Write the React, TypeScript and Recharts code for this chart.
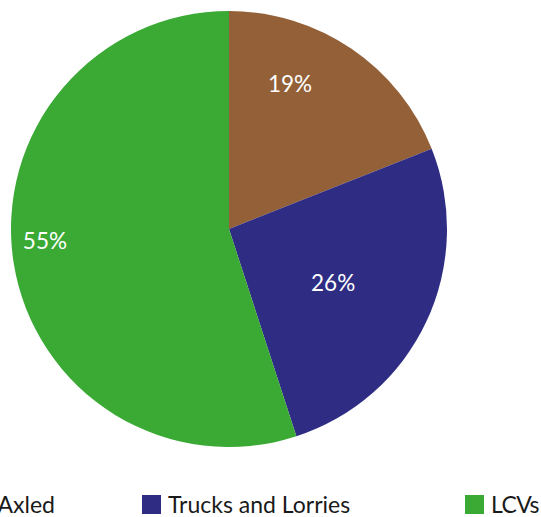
import React from 'react';
import { PieChart, Pie, Cell, Legend } from 'recharts';

const categories = ['Multi Axled', 'Trucks and Lorries', 'LCVs'];
const shares = [19, 26, 55];
const colors = ['#936038', '#2E2D83', '#3AAA35'];

// label placement tweaks (radius fraction of outer radius, angle offset in degrees)
const labelRadius = [0.725, 0.537, 0.846];
const labelAngleShift = [11.5, -2, -5.4];

const data = categories.map((name, i) => ({ name, value: shares[i] }));

const RAD = Math.PI / 180;

const renderLabel = (props: any) => {
  const { cx, cy, midAngle, outerRadius, index, value } = props;
  const r = outerRadius * labelRadius[index];
  const a = (midAngle + labelAngleShift[index]) * RAD;
  const x = cx + r * Math.cos(a);
  const y = cy - r * Math.sin(a);
  return (
    <text
      x={x}
      y={y}
      fill="#ffffff"
      textAnchor="middle"
      dominantBaseline="central"
      fontSize={22.5}
      fontFamily="Lato, sans-serif"
    >
      {`${value}%`}
    </text>
  );
};

const legendLeft = [null, 142, 465];

const renderLegend = () => (
  <div style={{ position: 'relative', width: 541, height: 24, fontFamily: 'Lato, sans-serif', fontSize: 23, color: '#1a1a1a' }}>
    {data.map((d, i) => {
      const left = legendLeft[i];
      const style: React.CSSProperties =
        left === null
          ? { position: 'absolute', right: 541 - 55, top: 0, display: 'flex', alignItems: 'flex-end', whiteSpace: 'nowrap' }
          : { position: 'absolute', left, top: 0, display: 'flex', alignItems: 'flex-end', whiteSpace: 'nowrap' };
      return (
        <div key={d.name} style={style}>
          <span style={{ display: 'inline-block', width: 19, height: 19, background: colors[i], marginRight: 7, flex: 'none' }} />
          <span style={{ whiteSpace: 'nowrap', lineHeight: '19px', letterSpacing: i === 2 ? -0.6 : 0 }}>{d.name}</span>
        </div>
      );
    })}
  </div>
);

export default function App() {
  return (
    <div style={{ position: 'fixed', left: 0, top: 0, width: 541, height: 517, overflow: 'hidden', background: '#ffffff' }}>
      <PieChart width={541} height={517} margin={{ top: 0, right: 0, bottom: 0, left: 0 }}>
        <Pie
          data={data}
          dataKey="value"
          nameKey="name"
          cx={229}
          cy={229}
          outerRadius={218}
          startAngle={90}
          endAngle={-270}
          stroke="none"
          label={renderLabel}
          labelLine={false}
          isAnimationActive={false}
        >
          {data.map((d, i) => (
            <Cell key={d.name} fill={colors[i]} />
          ))}
        </Pie>
        <Legend content={renderLegend} wrapperStyle={{ position: 'absolute', left: 0, top: 495, width: 541 }} />
      </PieChart>
    </div>
  );
}
